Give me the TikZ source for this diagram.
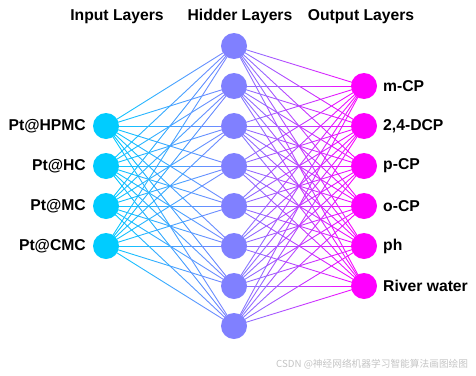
\documentclass[tikz,border=0pt]{standalone}
\usepackage{fontspec}
\setmainfont{Liberation Sans}
\newfontfamily\cjk{Noto Sans CJK SC}
\usetikzlibrary{calc,backgrounds}
\definecolor{incol}{HTML}{00CCFF}
\definecolor{hidcol}{HTML}{8080FF}
\definecolor{outcol}{HTML}{FF00FF}
\definecolor{markgray}{HTML}{C4C4C4}
\begin{document}
\begin{tikzpicture}[x=1pt,y=-1pt,
  neuron/.style={circle,minimum size=26pt,inner sep=0pt,draw=none},
  edge/.style={line width=0.9pt},
  lbl/.style={font=\fontsize{15.7}{18}\selectfont\bfseries,inner sep=0pt},
  title/.style={font=\fontsize{15.7}{18}\selectfont\bfseries,inner sep=0pt,anchor=base}]
\useasboundingbox (0,0) rectangle (476,375);
% titles
\node[title] (t1) at (117,20.5) {Input Layers};
\node[title] (t2) at (240,20.5) {Hidder Layers};
\node[title] (t3) at (361,20.5) {Output Layers};
% input layer
\foreach \y/\t [count=\i] in {126/Pt@HPMC,166/Pt@HC,206/Pt@MC,246/Pt@CMC}{
  \node[neuron,fill=incol] (i\i) at (106,\y) {};
  \node[lbl,anchor=east] (li\i) at (86,\y) {\t};
}
% hidden layer
\foreach \y [count=\i] in {46,86,126,166,206,246,286,326}{
  \node[neuron,fill=hidcol] (h\i) at (234,\y) {};
}
% output layer
\foreach \y/\t [count=\i] in {86/m-CP,126/{2,4-DCP},166/p-CP,206/o-CP,246/ph,286/River water}{
  \node[neuron,fill=outcol] (o\i) at (364,\y) {};
  \node[lbl,anchor=west] (lo\i) at (383,\y) {\t};
}
% connectors with a colour gradient
\begin{scope}[on background layer]
\foreach \a in {1,...,4}{
  \foreach \b in {1,...,8}{
    \foreach \k in {0,...,7}{
      \pgfmathsetmacro\s{\k/8}
      \pgfmathsetmacro\e{(\k+1)/8}
      \pgfmathtruncatemacro\p{100*(\k+0.5)/8}
      \draw[edge,color=hidcol!\p!incol] ($(i\a.center)!\s!(h\b.center)$) -- ($(i\a.center)!\e!(h\b.center)$);
    }
  }
}
\foreach \a in {1,...,8}{
  \foreach \b in {1,...,6}{
    \foreach \k in {0,...,7}{
      \pgfmathsetmacro\s{\k/8}
      \pgfmathsetmacro\e{(\k+1)/8}
      \pgfmathtruncatemacro\p{100*(\k+0.5)/8}
      \draw[edge,color=outcol!\p!hidcol] ($(h\a.center)!\s!(o\b.center)$) -- ($(h\a.center)!\e!(o\b.center)$);
    }
  }
}
\end{scope}
% watermark
\node[anchor=base west,inner sep=0pt,text=markgray,font=\cjk\fontsize{9.7}{12}\selectfont] (wm) at (276,367) {CSDN @神经网络机器学习智能算法画图绘图};
\end{tikzpicture}
\end{document}
